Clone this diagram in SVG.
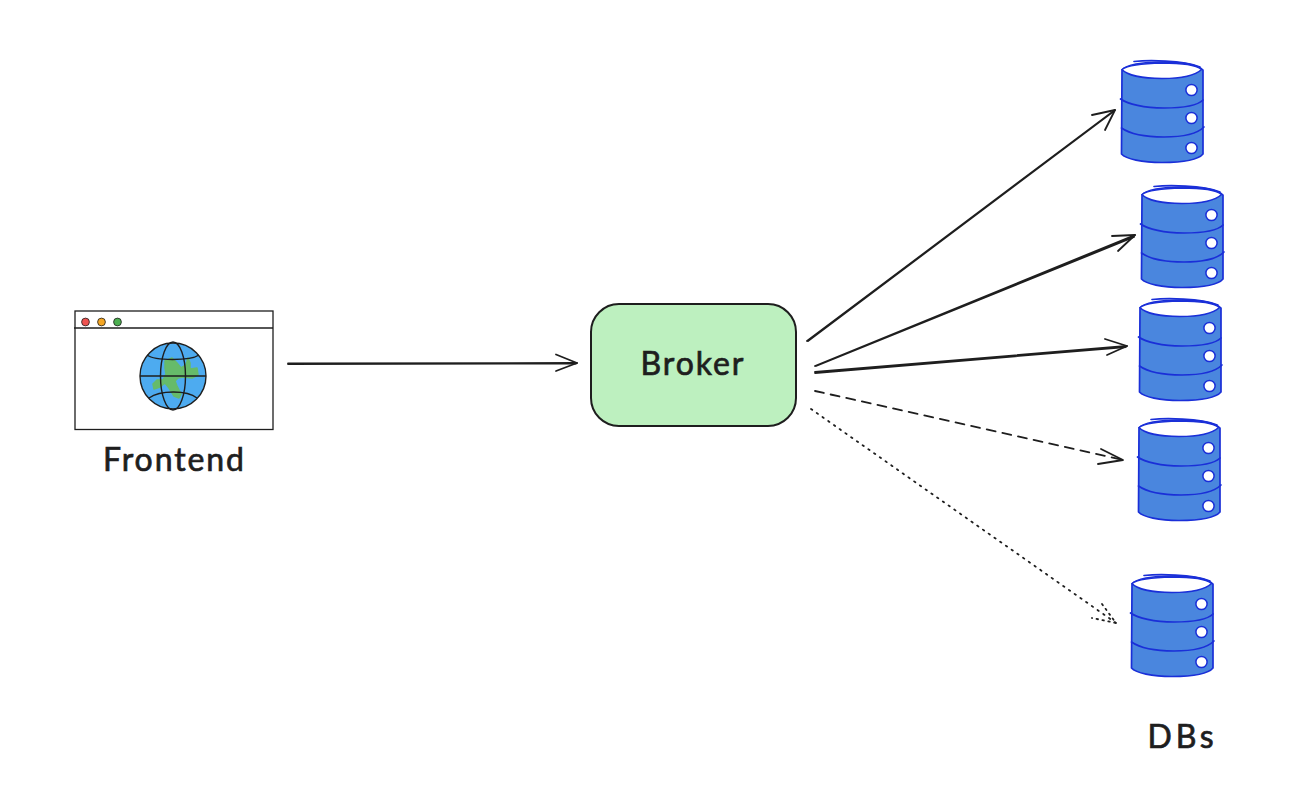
<svg xmlns="http://www.w3.org/2000/svg" xmlns:xlink="http://www.w3.org/1999/xlink" width="1302" height="798" viewBox="0 0 1302 798">
<style>
.lbl{font-family:"Lato","Liberation Sans",sans-serif;font-size:32px;fill:#1e1e1e;stroke:#1e1e1e;stroke-width:0.7;text-anchor:middle;letter-spacing:1.9px}
.c{fill:none;stroke:#1e1e1e;stroke-linecap:round;stroke-linejoin:round;stroke-width:1.8}
.dbb{fill:#4a86de;stroke:#1a2fd8;stroke-width:1.7;stroke-linejoin:round}
.dbl{fill:none;stroke:#1a2fd8;stroke-width:1.7;stroke-linecap:round}
.dbw{fill:#fff;stroke:#1a2fd8;stroke-width:1.5}
.k{fill:none;stroke:#1e1e1e;stroke-width:1.4}
</style>
<defs>
<g id="db">
<path class="dbb" d="M0 8L-0.500 92C4 97 20 100.500 40 100.500C60 100.500 76 98 81 92L81 8C76 3 60 0 40 0C20 0 4 3 0 8Z"/>
<path class="dbw" d="M0 7.500C6 3 20 1.500 40 1C60 1 74 3 79.500 7.500C74 13 60 16.500 40 16.500C20 16.500 5 13 0 7.500Z"/>
<path class="dbl" d="M-1.500 37C6 42 22 46 42 46C62 46 76 43 81 38"/>
<path class="dbl" d="M-0.500 66C8 72 24 75 42 75C62 75 76 71 82 65"/>
<path class="dbl" d="M12 -0.500C26 -2 60 -2 78 5"/>
<circle class="dbw" cx="69.500" cy="28" r="5.600"/>
<circle class="dbw" cx="69.500" cy="56" r="5.600"/>
<circle class="dbw" cx="69.500" cy="86" r="5.600"/>
</g>
</defs>
<rect width="1302" height="798" fill="#ffffff"/>
<g id="connectors">
<path class="c" d="M288 363.500L577 363M288 364L576 363.500"/>
<path class="c" d="M556 354.500L577 363L556 371"/>
<path class="c" d="M807 341L1115 110M808 341L1114 111"/>
<path class="c" d="M1092 115L1115 110L1105 130"/>
<path class="c" d="M815 366L1135 235M816 366L1134 237"/>
<path class="c" d="M1112 236L1135 235L1118 251"/>
<path class="c" d="M815 372L1127 346M815 373L1126 347"/>
<path class="c" d="M1105 339L1127 346L1107 355"/>
<path class="c" stroke-dasharray="9 7" d="M815 391L1123 460"/>
<path class="c" d="M1101 449L1123 460L1098 464"/>
<path class="c" stroke-dasharray="1.500 5.500" d="M811 409L1116 623"/>
<path class="c" stroke-dasharray="1.500 4.500" d="M1102 604L1116 623L1092 618"/>
</g>
<g id="frontend">
<rect x="75" y="311" width="198" height="118.500" fill="#fff" stroke="#1e1e1e" stroke-width="1.300"/>
<path class="k" d="M74 328L273 328"/>
<circle cx="85.500" cy="322" r="3.900" fill="#ef5350" stroke="#1e1e1e" stroke-width="0.800"/>
<circle cx="101.500" cy="322" r="3.900" fill="#f5a623" stroke="#1e1e1e" stroke-width="0.800"/>
<circle cx="117.500" cy="322" r="3.900" fill="#4caf50" stroke="#1e1e1e" stroke-width="0.800"/>
<circle cx="173" cy="376" r="33" fill="#4dabf0" stroke="#1e1e1e" stroke-width="1.400"/>
<path fill="#66bb6a" d="M165 361L172 358L177 363L181 368L186 365L188 358L190 363L190 369L197 368L198 375L192 378L183 377L178 378L175 381L177 386L181 394L179 398L174 396L169 388L165 383L160 387L154 389L153 384L157 380L163 380L166 374L165 368Z" stroke="#66bb6a" stroke-width="1.500" stroke-linejoin="round"/>
<path class="k" d="M140 376L206 376"/>
<ellipse class="k" cx="173" cy="376" rx="12.500" ry="34"/>
<path class="k" d="M147 355C155 361 190 361 199 355"/>
<path class="k" d="M149 398C160 390 187 390 197 398"/>
<text class="lbl" x="174.500" y="471">Frontend</text>
</g>
<g id="broker">
<rect x="591" y="304" width="205" height="122" rx="28" fill="#bdf0bf" stroke="#1e1e1e" stroke-width="2"/>
<text class="lbl" x="693" y="375">Broker</text>
</g>
<g id="db1"><use href="#db" xlink:href="#db" x="1122" y="62"/></g>
<g id="db2"><use href="#db" xlink:href="#db" x="1142" y="187"/></g>
<g id="db3"><use href="#db" xlink:href="#db" x="1140" y="300"/></g>
<g id="db4"><use href="#db" xlink:href="#db" x="1139" y="420"/></g>
<g id="db5"><use href="#db" xlink:href="#db" x="1132" y="576"/></g>
<g id="dbs-label"><text class="lbl" x="1182.500" y="748" style="letter-spacing:4px">DBs</text></g>
</svg>
